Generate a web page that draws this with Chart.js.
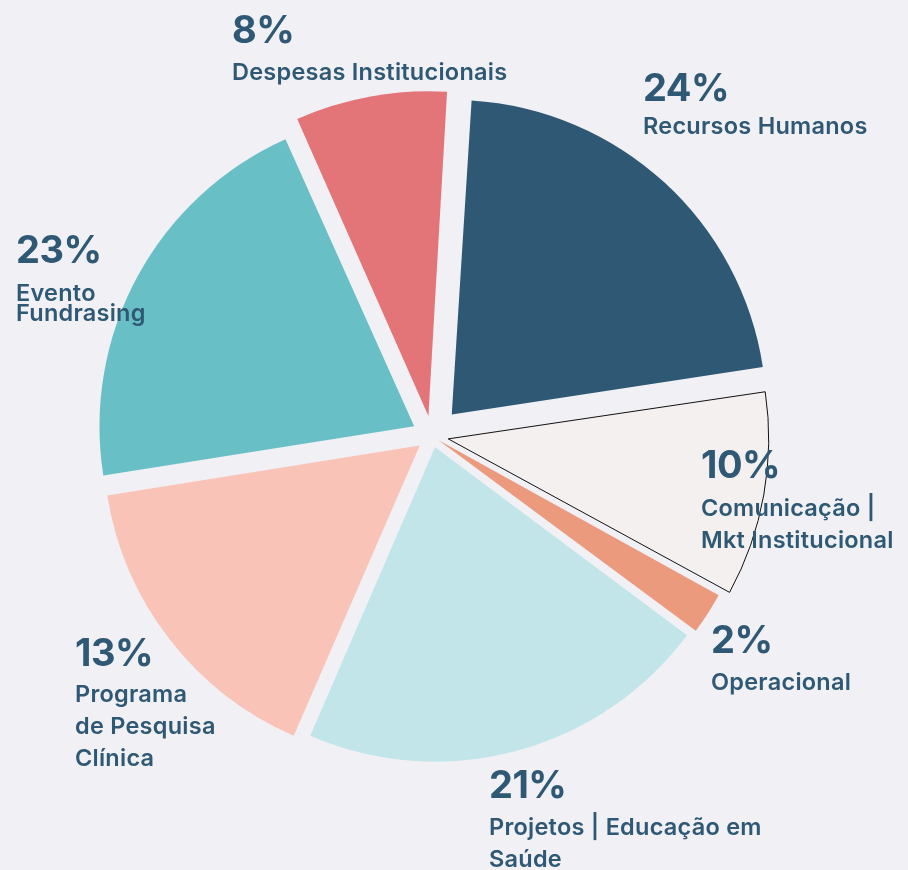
<!DOCTYPE html>
<html lang="pt-BR">
<head>
<meta charset="utf-8">
<title>Distribuição de despesas</title>
<script src="https://cdn.jsdelivr.net/npm/chart.js@4.4.1/dist/chart.umd.min.js"></script>
<style>
  html, body { margin: 0; padding: 0; background: #f0f0f5; }
  #wrap { position: relative; width: 908px; height: 870px; overflow: hidden; background: #f0f0f5; }
  #pie { position: absolute; left: 0; top: 0; }
  .lbl { position: absolute; color: #2e5873; font-family: Inter, "Open Sans", sans-serif; white-space: nowrap; }
  .pct { font-size: 38px; font-weight: 700; line-height: 38px; letter-spacing: -0.5px; }
  .name { font-size: 23.5px; font-weight: 600; line-height: 32px; letter-spacing: 0.25px; }
</style>
</head>
<body>
<div id="wrap">
  <canvas id="pie" width="908" height="870"></canvas>
</div>

<script>
// ---- data (clockwise from the top) ----
const categories = [
  "Recursos Humanos",
  "Comunicação | Mkt Institucional",
  "Operacional",
  "Projetos | Educação em Saúde",
  "Programa de Pesquisa Clínica",
  "Evento Fundrasing",
  "Despesas Institucionais"
];
// slice sizes as measured on the drawing (%)
const shares = [21.6, 10.4, 2.2, 21.3, 16.0, 20.8, 7.7];
// printed percentages
const pctLabels = ["24%", "10%", "2%", "21%", "13%", "23%", "8%"];
// printed names, line by line
const nameLines = [
  ["Recursos Humanos"],
  ["Comunicação |", "Mkt Institucional"],
  ["Operacional"],
  ["Projetos | Educação em", "Saúde"],
  ["Programa", "de Pesquisa", "Clínica"],
  ["Evento", "Fundrasing"],
  ["Despesas Institucionais"]
];

// ---- styles ----
const sliceColors = ["#2e5873", "#f4f0ef", "#ec9a7e", "#c1e5e8", "#fac3b7", "#68c0c6", "#e37579"];
const sliceBorderColors = ["#2e5873", "#111111", "#ec9a7e", "#c1e5e8", "#fac3b7", "#68c0c6", "#e37579"];
const sliceBorderWidths = [0, 1, 0, 0, 0, 0, 0];
// explode distance per slice
const sliceOffsets = [117, 66, 30, 47, 62, 81, 81];

// label placement: [x, top of percentage, top of name, name line height]
const labelPlaces = [
  [643, 68, 109.5, 32],
  [701, 445, 491.5, 32],
  [711, 620, 665.5, 32],
  [489, 765, 810.5, 32],
  [75, 633, 677.5, 32],
  [16, 230, 282.5, 20],
  [232, 10, 55.5, 32]
];

// ---- chart ----
const ctx = document.getElementById("pie").getContext("2d");

new Chart(ctx, {
  type: "pie",
  data: {
    labels: categories,
    datasets: [{
      data: shares,
      backgroundColor: sliceColors,
      borderColor: sliceBorderColors,
      borderWidth: sliceBorderWidths,
      borderJoinStyle: "miter",
      offset: sliceOffsets,
      hoverOffset: 0
    }]
  },
  options: {
    responsive: false,
    animation: false,
    events: [],
    rotation: 3.6,
    layout: { padding: { left: 59, top: 63, right: 103, bottom: 61 } },
    plugins: {
      legend: { display: false },
      tooltip: { enabled: false }
    }
  }
});

// ---- labels as real text ----
const wrap = document.getElementById("wrap");
categories.forEach((cat, i) => {
  const [x, pctTop, nameTop, lh] = labelPlaces[i];

  const pct = document.createElement("div");
  pct.className = "lbl pct";
  pct.style.left = x + "px";
  pct.style.top = pctTop + "px";
  pct.textContent = pctLabels[i];
  wrap.appendChild(pct);

  const name = document.createElement("div");
  name.className = "lbl name";
  name.style.left = x + "px";
  name.style.top = nameTop + "px";
  name.style.lineHeight = lh + "px";
  name.innerHTML = nameLines[i].join("<br>");
  wrap.appendChild(name);
});
</script>
</body>
</html>
